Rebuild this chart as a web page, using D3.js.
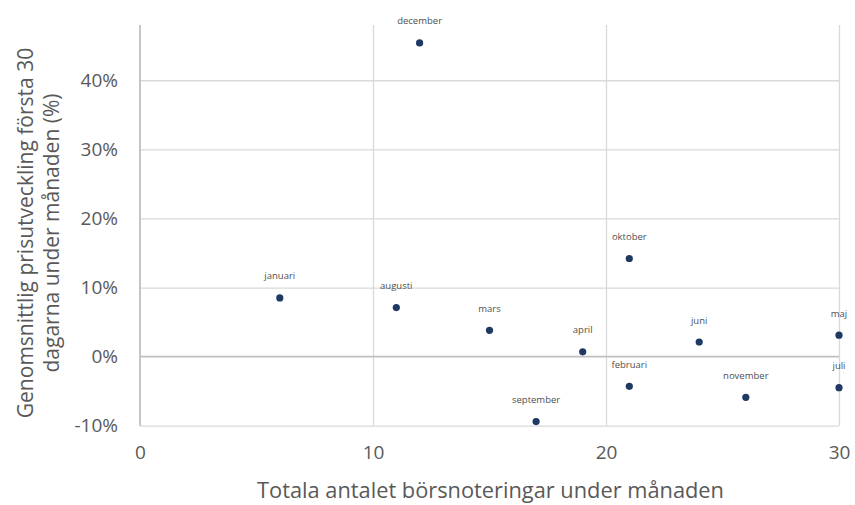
<!DOCTYPE html>
<html>
<head>
<meta charset="utf-8">
<script src="https://cdn.jsdelivr.net/npm/d3@7"></script>
<style>
  html, body { margin: 0; padding: 0; background: #fff; }
  svg { display: block; font-family: "Open Sans", "Noto Sans", sans-serif; }
</style>
</head>
<body>
<svg id="chart" width="855" height="505"></svg>
<script>
// Månad, antal börsnoteringar och genomsnittlig prisutveckling (andel)
const months   = ["januari", "februari", "mars", "april", "maj", "juni", "juli",
                  "augusti", "september", "oktober", "november", "december"];
const listings = [6, 21, 15, 19, 30, 24, 30, 11, 17, 21, 26, 12];
const returns  = [0.085, -0.043, 0.038, 0.007, 0.031, 0.021, -0.045,
                  0.071, -0.094, 0.142, -0.059, 0.454];

const xTicks = [0, 10, 20, 30];
const yTicks = [-0.1, 0, 0.1, 0.2, 0.3, 0.4];

const xTitle = "Totala antalet börsnoteringar under månaden";
const yTitleLines = ["Genomsnittlig prisutveckling första 30", "dagarna under månaden (%)"];

const points = months.map((m, i) => ({ month: m, n: listings[i], r: returns[i] }));

const svg = d3.select("#chart");
const plot = { left: 140, right: 839, top: 25, bottom: 425.7 };

const x = d3.scaleLinear().domain([0, 30]).range([plot.left, plot.right]);
const y = d3.scaleLinear().domain([-0.1, 0.48]).range([plot.bottom, plot.top]);

const textColor = "#595959";
const gridColor = "#d9d9d9";
const axisColor = "#bfbfbf";

// Horisontella stödlinjer
svg.append("g")
  .attr("transform", `translate(${plot.left},0)`)
  .call(d3.axisRight(y).tickValues(yTicks.filter(v => v !== 0))
    .tickSize(plot.right - plot.left).tickFormat(""))
  .call(g => g.select(".domain").remove())
  .call(g => g.selectAll("line").attr("stroke", gridColor).attr("stroke-width", 1.3));

// Vertikala stödlinjer
svg.append("g")
  .attr("transform", `translate(0,${plot.top})`)
  .call(d3.axisBottom(x).tickValues(xTicks.filter(v => v !== 0))
    .tickSize(plot.bottom - plot.top).tickFormat(""))
  .call(g => g.select(".domain").remove())
  .call(g => g.selectAll("line").attr("stroke", gridColor).attr("stroke-width", 1.3));

// Nollinje och vänster axellinje
svg.append("line")
  .attr("x1", plot.left).attr("x2", plot.right)
  .attr("y1", y(0)).attr("y2", y(0))
  .attr("stroke", axisColor).attr("stroke-width", 1.8);
svg.append("line")
  .attr("x1", plot.left).attr("x2", plot.left)
  .attr("y1", plot.top).attr("y2", plot.bottom)
  .attr("stroke", axisColor).attr("stroke-width", 1.8);

// Y-axelns etiketter
svg.append("g")
  .attr("transform", `translate(${plot.left - 22},0)`)
  .call(d3.axisLeft(y).tickValues(yTicks).tickSize(0).tickPadding(0)
    .tickFormat(d => Math.round(d * 100) + "%"))
  .call(g => g.select(".domain").remove())
  .call(g => g.selectAll("text")
    .attr("fill", textColor).attr("font-size", 19)
    .attr("font-family", "Open Sans, Noto Sans, sans-serif"));

// X-axelns etiketter
svg.append("g")
  .attr("transform", `translate(0,${plot.bottom + 20})`)
  .call(d3.axisBottom(x).tickValues(xTicks).tickSize(0).tickPadding(0)
    .tickFormat(d3.format("d")))
  .call(g => g.select(".domain").remove())
  .call(g => g.selectAll("text")
    .attr("fill", textColor).attr("font-size", 19)
    .attr("font-family", "Open Sans, Noto Sans, sans-serif"));

// Axeltitlar
svg.append("text")
  .attr("x", (plot.left + plot.right) / 2 + 1)
  .attr("y", 498)
  .attr("text-anchor", "middle")
  .attr("fill", textColor)
  .attr("font-size", 21.8)
  .text(xTitle);

const yTitle = svg.append("text")
  .attr("transform", "translate(0,233) rotate(-90)")
  .attr("text-anchor", "middle")
  .attr("fill", textColor)
  .attr("font-size", 21);
yTitle.selectAll("tspan")
  .data(yTitleLines)
  .join("tspan")
  .attr("x", 0)
  .attr("y", (d, i) => 33 + i * 26)
  .text(d => d);

// Punkter
svg.append("g")
  .selectAll("circle")
  .data(points)
  .join("circle")
  .attr("cx", d => x(d.n))
  .attr("cy", d => y(d.r))
  .attr("r", 3.6)
  .attr("fill", "#1f3864");

// Månadsetiketter ovanför punkterna
svg.append("g")
  .selectAll("text")
  .data(points)
  .join("text")
  .attr("x", d => x(d.n))
  .attr("y", d => y(d.r) - 18.5)
  .attr("text-anchor", "middle")
  .attr("fill", "#505050")
  .attr("font-size", 9.5)
  .text(d => d.month);
</script>
</body>
</html>
